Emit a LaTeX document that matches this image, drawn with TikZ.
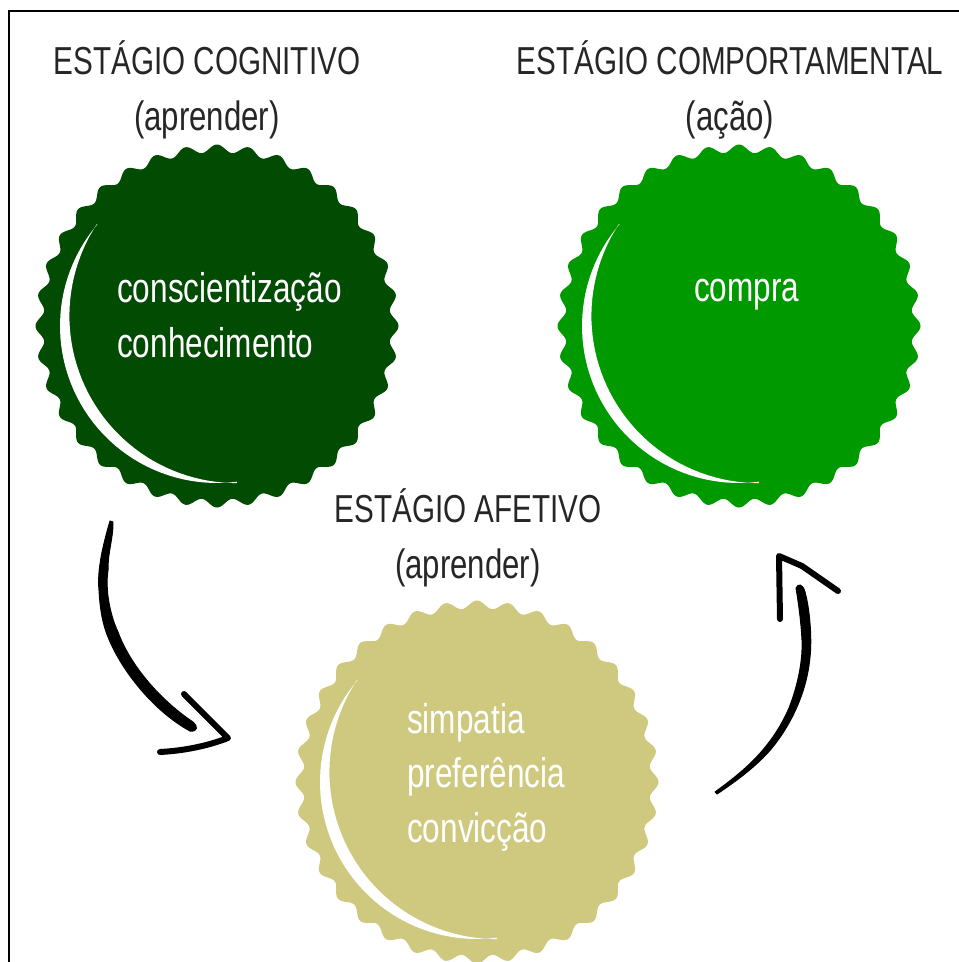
\documentclass[tikz,border=0pt]{standalone}
\usepackage{fontspec}
\setmainfont[FakeStretch=0.76]{Liberation Sans}
\definecolor{darkgreen}{RGB}{2,75,3}
\definecolor{midgreen}{RGB}{0,153,0}
\definecolor{khaki}{RGB}{207,201,127}
\newcommand{\sublabel}{\fontsize{41}{56}\selectfont}
\tikzset{
  stagelabel/.style={align=center, inner sep=0pt, text=black!85, font=\fontsize{39}{56}\selectfont},
  badgelabel/.style={align=left, anchor=west, inner sep=0pt, text=white, font=\fontsize{41.5}{54.5}\selectfont},
  stroke/.style={fill=black, draw=black, line width=1pt, line join=round, line cap=round},
  headline/.style={draw=black, line width=6pt, line join=round, line cap=round},
}

\begin{document}
\begin{tikzpicture}[x=1pt,y=-1pt]
\useasboundingbox (0,0) rectangle (959,962);

\draw[line width=2.2pt] (9,962) -- (9,11) -- (959,11);

% badges with their crescents
\foreach \cx/\cy/\col in {217/326/darkgreen, 739/326/midgreen, 477/782/khaki}{
  \begin{scope}[shift={(\cx,\cy)}]
    \fill[\col] plot[domain=0:360, samples=721] (\x:{177.5+4*cos(36*\x)}) -- cycle;
    \fill[white] plot[domain=220.4:82.7, samples=50] (\x:157)
      -- plot[domain=89.9:213.4, samples=50] ({19.6+167.2*cos(\x)},{-10.1+167.2*sin(\x)}) -- cycle;
  \end{scope}
}

\node[stagelabel] (cognitivo) at (207,90) {ESTÁGIO COGNITIVO\\{\sublabel (aprender)}};
\node[stagelabel] (comportamental) at (730,90) {ESTÁGIO COMPORTAMENTAL\\{\sublabel (ação)}};
\node[stagelabel] (afetivo) at (468,538) {ESTÁGIO AFETIVO\\{\sublabel (aprender)}};

\node[badgelabel] (cogbadge) at (117,315) {conscientização\\conhecimento};
\node[badgelabel] (compra) at (694,295) {compra};
\node[badgelabel] (afebadge) at (407,777) {simpatia\\preferência\\convicção};

\coordinate (downstart) at (110,521);
\coordinate (downend) at (190,731);
\coordinate (downtip) at (228,738);
\coordinate (upstart) at (715,792);
\coordinate (upend) at (796,588);
\coordinate (uptip) at (779,556);

% hand drawn arrows
\draw[stroke] (downstart) .. controls (103,545) and (97,570) .. (99,590)
  .. controls (100,610) and (103,625) .. (108,637)
  .. controls (122,672) and (155,712) .. (downend)
  .. controls (198,732) and (198,726) .. (193,722)
  .. controls (160,700) and (130,665) .. (118,632)
  .. controls (110,615) and (105,590) .. (108,570)
  .. controls (108,550) and (113,540) .. (113,522) -- cycle;
\draw[headline] (184,694) -- (downtip) .. controls (205,747) and (180,751) .. (160,752);

\draw[stroke] (upstart) .. controls (738,775) and (770,752) .. (789,708)
  .. controls (798,685) and (803,660) .. (802,640)
  .. controls (801,620) and (798,600) .. (upend)
  .. controls (798,583) and (803,584) .. (805,592)
  .. controls (810,610) and (812,640) .. (810,657)
  .. controls (807,690) and (793,722) .. (772,748)
  .. controls (757,766) and (735,782) .. (717,794) -- cycle;
\draw[headline] (780,619) -- (uptip) -- (802,566) -- (838,591);
\end{tikzpicture}
\end{document}
